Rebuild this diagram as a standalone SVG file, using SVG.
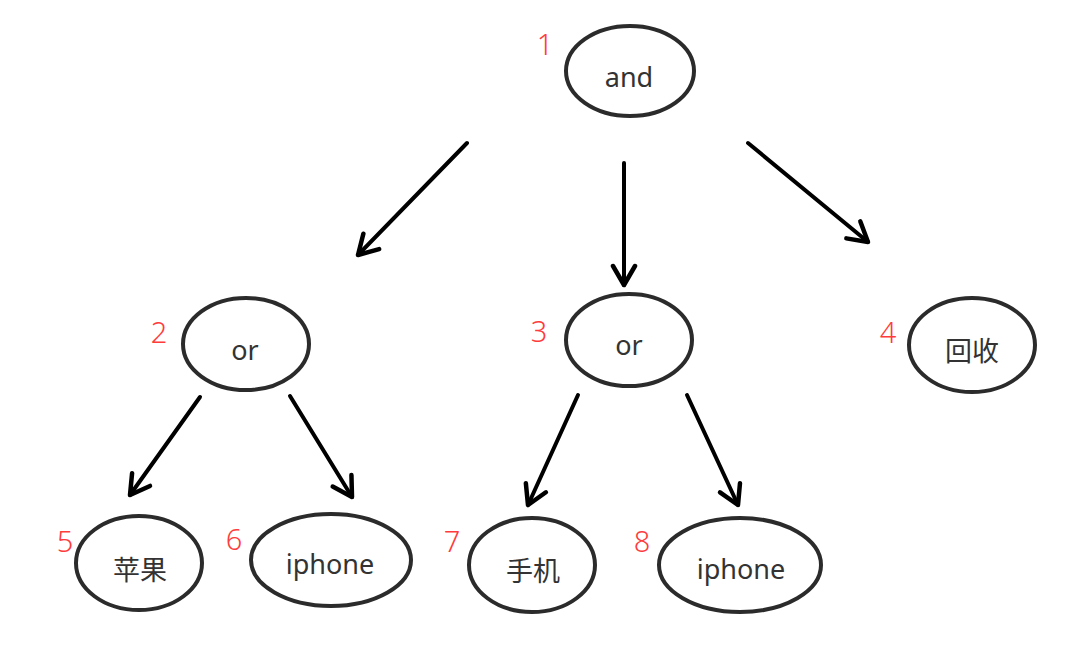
<svg xmlns="http://www.w3.org/2000/svg" width="1080" height="650" viewBox="0 0 1080 650">
<style>
.node ellipse{fill:#fff;stroke:#2b2b2b;stroke-width:4}
.node text.t{font-family:"Noto Sans","Noto Sans CJK SC",sans-serif;font-size:27px;fill:#333;text-anchor:middle}
.node text.n{font-family:"Noto Sans",sans-serif;font-size:29px;fill:#ff3b3b;text-anchor:middle;font-weight:300}
.edge{stroke:#000;stroke-width:4;fill:none;stroke-linecap:round;marker-end:url(#ah)}
</style>
<defs>
<marker id="ah" viewBox="0 0 26 28" markerUnits="userSpaceOnUse" markerWidth="26" markerHeight="28" refX="22" refY="14" orient="auto">
<path d="M3,3 L22,14 L3,25" fill="none" stroke="#000" stroke-width="4.5" stroke-linecap="round" stroke-linejoin="round"/>
</marker>
</defs>
<rect width="1080" height="650" fill="#fff"/>
<g id="connectors">
<line class="edge" x1="467" y1="143" x2="358" y2="255"/>
<line class="edge" x1="624" y1="163" x2="624" y2="285"/>
<line class="edge" x1="748" y1="143" x2="868" y2="242"/>
<line class="edge" x1="200" y1="397" x2="130" y2="495"/>
<line class="edge" x1="290" y1="396" x2="352" y2="497"/>
<line class="edge" x1="578" y1="395" x2="528" y2="505"/>
<line class="edge" x1="687" y1="395" x2="738" y2="505"/>
</g>
<g id="node1" class="node"><ellipse cx="630" cy="71" rx="64" ry="45"/><text class="t" x="629" y="87">and</text><text class="n" x="545" y="55">1</text></g>
<g id="node2" class="node"><ellipse cx="246" cy="344" rx="63" ry="46"/><text class="t" x="245" y="360">or</text><text class="n" x="159" y="343">2</text></g>
<g id="node3" class="node"><ellipse cx="629" cy="340" rx="63" ry="46"/><text class="t" x="629" y="355">or</text><text class="n" x="539" y="342">3</text></g>
<g id="node4" class="node"><ellipse cx="972" cy="345" rx="63" ry="47"/><text class="t" x="972" y="361">回收</text><text class="n" x="888" y="343">4</text></g>
<g id="node5" class="node"><ellipse cx="139" cy="563" rx="63" ry="47"/><text class="t" x="140" y="580">苹果</text><text class="n" x="65" y="552">5</text></g>
<g id="node6" class="node"><ellipse cx="331" cy="560" rx="80" ry="46"/><text class="t" x="330" y="574">iphone</text><text class="n" x="234" y="550">6</text></g>
<g id="node7" class="node"><ellipse cx="532" cy="565" rx="63" ry="47"/><text class="t" x="533" y="581">手机</text><text class="n" x="452" y="552">7</text></g>
<g id="node8" class="node"><ellipse cx="740" cy="565" rx="81" ry="47"/><text class="t" x="741" y="579">iphone</text><text class="n" x="642" y="552">8</text></g>
</svg>
